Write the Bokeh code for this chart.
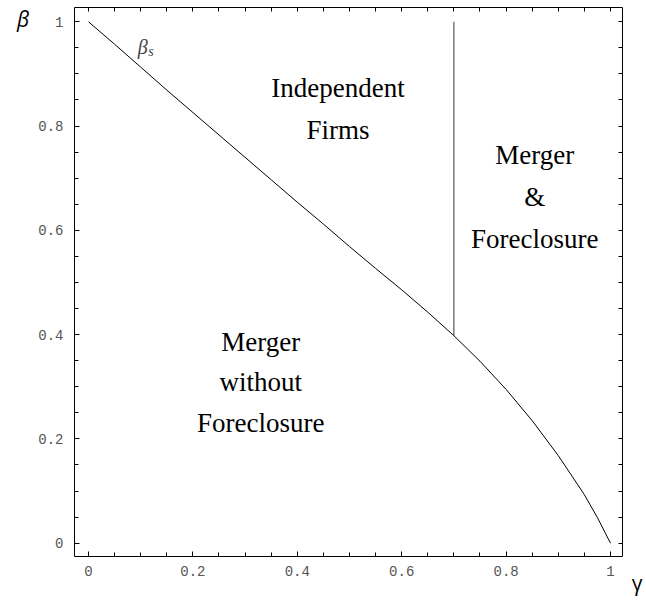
from bokeh.plotting import figure
from bokeh.models import Range1d, LinearAxis, Label, FixedTicker, Title
from bokeh.embed import file_html
from bokeh.resources import INLINE

# ---- data ----
gamma = [0.0, 0.05, 0.1, 0.15, 0.2, 0.25, 0.3, 0.35, 0.4, 0.45, 0.5, 0.55,
         0.6, 0.65, 0.7, 0.75, 0.8, 0.85, 0.9, 0.95, 0.975, 1.0]
beta_s = [1.0, 0.957, 0.913, 0.869, 0.826, 0.783, 0.740, 0.697, 0.654, 0.612,
          0.569, 0.527, 0.486, 0.443, 0.398, 0.349, 0.295, 0.235, 0.168, 0.093,
          0.049, 0.0]
foreclosure_gamma = [0.7, 0.7]
foreclosure_beta = [0.398, 1.0]
major_ticks = [0, 0.2, 0.4, 0.6, 0.8, 1]
tick_labels = ["0", "0.2", "0.4", "0.6", "0.8", "1"]
minor_ticks = [0.05, 0.1, 0.15, 0.25, 0.3, 0.35, 0.45, 0.5, 0.55,
               0.65, 0.7, 0.75, 0.85, 0.9, 0.95]

p = figure(width=646, height=602,
           x_range=Range1d(-0.0268, 1.023), y_range=Range1d(-0.0255, 1.0274),
           output_backend="svg", toolbar_location=None,
           min_border_left=74, min_border_right=24, min_border_top=7,
           min_border_bottom=46)
p.xgrid.grid_line_color = None
p.ygrid.grid_line_color = None
p.outline_line_color = None
p.background_fill_color = "white"
p.border_fill_color = "white"

overrides = {t: l for t, l in zip(major_ticks, tick_labels)}


def style_main(ax, standoff):
    ax.ticker = FixedTicker(ticks=major_ticks, minor_ticks=minor_ticks)
    ax.major_tick_in = 5
    ax.major_tick_out = 0
    ax.minor_tick_in = 4
    ax.minor_tick_out = 0
    ax.axis_line_color = "black"
    ax.axis_line_width = 1
    ax.major_tick_line_color = "black"
    ax.minor_tick_line_color = "black"
    ax.major_label_overrides = overrides
    ax.major_label_text_font = "Liberation Mono"
    ax.major_label_text_font_size = "14px"
    ax.major_label_text_color = "#555555"
    ax.major_label_standoff = standoff


def style_mirror(ax):
    # tick marks only (all positions as minor ticks, so no labels are drawn)
    ax.ticker = FixedTicker(ticks=[], minor_ticks=major_ticks + minor_ticks)
    ax.major_tick_in = 0
    ax.major_tick_out = 0
    ax.minor_tick_in = 4
    ax.minor_tick_out = 0
    ax.axis_line_color = "black"
    ax.axis_line_width = 1
    ax.minor_tick_line_color = "black"
    ax.major_label_standoff = 0


style_main(p.xaxis[0], 9)
style_main(p.yaxis[0], 11)

# y axis name: horizontal, at the top end of the left axis
yax = p.yaxis[0]
yax.axis_label = "\nβ"
yax.axis_label_orientation = "horizontal"
yax.axis_label_text_font = "Open Sans"
yax.axis_label_text_font_style = "italic"
yax.axis_label_text_font_size = "21px"
yax.axis_label_text_line_height = 0.85
yax.axis_label_text_color = "black"
yax.axis_label_standoff = 6
try:
    yax.axis_label_align = "end"
except Exception:
    try:
        yax.axis_label_align = "right"
    except Exception:
        pass

top_ax = LinearAxis()
right_ax = LinearAxis()
style_mirror(top_ax)
style_mirror(right_ax)
p.add_layout(top_ax, "above")
p.add_layout(right_ax, "right")

# x axis name: below, right of the frame
p.add_layout(Title(text="γ", align="right", offset=-20, standoff=-20,
                   vertical_align="top",
                   text_font="Open Sans", text_font_style="normal",
                   text_font_size="21px", text_color="black"), "below")

p.line(gamma, beta_s, line_color="black", line_width=1)
p.line(foreclosure_gamma, foreclosure_beta, line_color="#333333", line_width=1)

serif = "Liberation Serif"
region_lines = [
    ("Independent", 0.478, 0.873),
    ("Firms", 0.478, 0.793),
    ("Merger", 0.855, 0.745),
    ("&", 0.855, 0.664),
    ("Foreclosure", 0.855, 0.583),
    ("Merger", 0.330, 0.386),
    ("without", 0.330, 0.309),
    ("Foreclosure", 0.330, 0.230),
]
for txt, x, y in region_lines:
    p.add_layout(Label(x=x, y=y, text=txt, text_font=serif,
                       text_font_size="27px", text_align="center",
                       text_baseline="alphabetic", text_color="black"))

# beta_s curve label
p.add_layout(Label(x=0.104, y=0.951, text="β", text_font=serif,
                   text_font_style="italic", text_font_size="20px",
                   text_align="center", text_baseline="middle"))
p.add_layout(Label(x=0.1197, y=0.9425, text="s", text_font=serif,
                   text_font_style="italic", text_font_size="14px",
                   text_align="center", text_baseline="middle"))

open("out.html", "w").write(file_html(p, INLINE))
